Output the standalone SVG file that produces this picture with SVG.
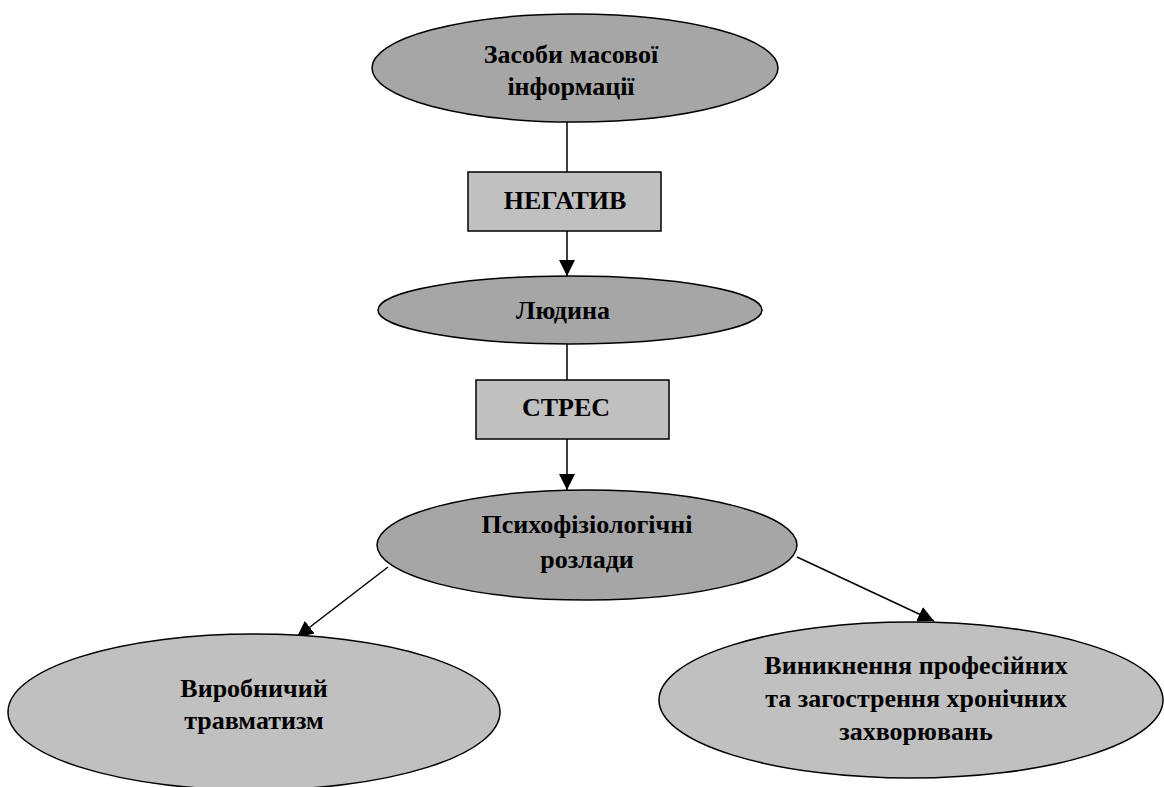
<svg xmlns="http://www.w3.org/2000/svg" width="1164" height="787" viewBox="0 0 1164 787">
<style>
.dark{fill:#a6a6a6;stroke:#000;stroke-width:1.5}
.light{fill:#c0c0c0;stroke:#000;stroke-width:1.5}
.box{fill:#c0c0c0;stroke:#000;stroke-width:1.5}
text{font-family:"Liberation Serif","Times New Roman",serif;font-weight:bold;font-size:26px;fill:#000;text-anchor:middle}
.conn line{stroke:#000;stroke-width:1.5}
</style>
<defs>
<marker id="arr" viewBox="0 0 10 10" refX="10" refY="5" markerWidth="16" markerHeight="16" markerUnits="userSpaceOnUse" orient="auto">
<path d="M0,0 L10,5 L0,10 Z" fill="#000"/>
</marker>
</defs>
<rect width="1164" height="787" fill="#fff"/>
<g id="connectors" class="conn">
<line x1="567" y1="122" x2="567" y2="172"/>
<line x1="567" y1="231" x2="567" y2="276" marker-end="url(#arr)"/>
<line x1="567" y1="344" x2="567" y2="380"/>
<line x1="567" y1="439" x2="567" y2="490" marker-end="url(#arr)"/>
<line x1="388" y1="567" x2="297" y2="637" marker-end="url(#arr)"/>
<line x1="797" y1="557" x2="934" y2="621" marker-end="url(#arr)"/>
</g>
<g id="n1">
<ellipse class="dark" cx="575" cy="68" rx="203" ry="54"/>
<text x="571" y="63">Засоби масової</text>
<text x="571" y="95">інформації</text>
</g>
<g id="n2">
<rect class="box" x="468" y="172" width="193" height="59"/>
<text x="565" y="209">НЕГАТИВ</text>
</g>
<g id="n3">
<ellipse class="dark" cx="570" cy="310" rx="192" ry="34"/>
<text x="563" y="319">Людина</text>
</g>
<g id="n4">
<rect class="box" x="476" y="380" width="193" height="59"/>
<text x="566" y="416">СТРЕС</text>
</g>
<g id="n5">
<ellipse class="dark" cx="587" cy="545" rx="210" ry="55"/>
<text x="587" y="533">Психофізіологічні</text>
<text x="587" y="568">розлади</text>
</g>
<g id="n6">
<ellipse class="light" cx="254" cy="712" rx="246" ry="78"/>
<text x="254" y="697">Виробничий</text>
<text x="254" y="729">травматизм</text>
</g>
<g id="n7">
<ellipse class="light" cx="911" cy="700" rx="252" ry="78"/>
<text x="916" y="674">Виникнення професійних</text>
<text x="916" y="707">та загострення хронічних</text>
<text x="916" y="740">захворювань</text>
</g>
</svg>
